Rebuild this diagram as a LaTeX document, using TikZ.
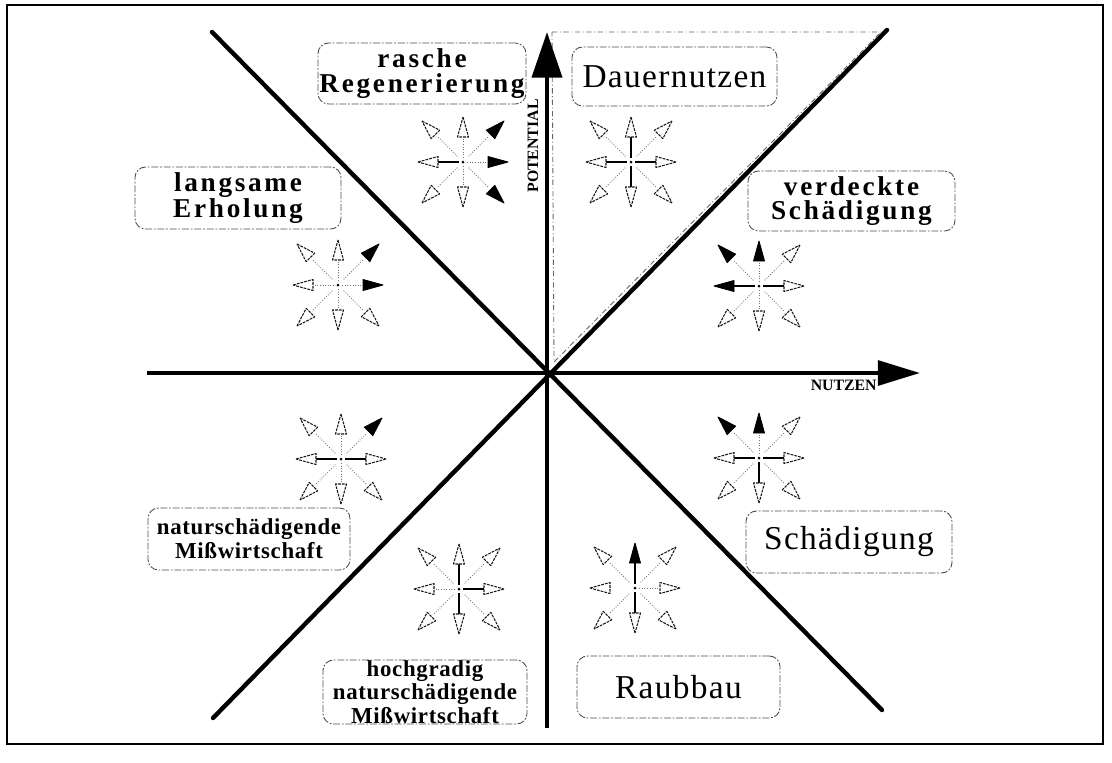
\documentclass[tikz,border=0pt]{standalone}
\usepackage{fontspec}
\setmainfont{Liberation Serif}
\newfontfamily\spbf[LetterSpace=10]{Liberation Serif}
\newfontfamily\smbf[LetterSpace=3]{Liberation Serif}
\newfontfamily\sprm[LetterSpace=4]{Liberation Serif}
\usetikzlibrary{calc,arrows.meta}
\newcommand\fbig{\spbf\bfseries\fontsize{15.5}{14}\selectfont}
\newcommand\fsm{\smbf\bfseries\fontsize{13}{13.5}\selectfont}
\newcommand\freg{\sprm\fontsize{19}{20}\selectfont}
\tikzset{
 frame/.style={line width=0.85pt},
 axis/.style={line width=2.5pt},
 diag/.style={line width=2.5pt, line cap=round},
 lbox/.style={draw=black!70, line width=0.5pt, rounded corners=6pt,
   dash pattern=on 4pt off 1pt on 1pt off 1pt, align=center, inner sep=0pt},
 sector/.style={draw=black!60, line width=0.5pt, dash pattern=on 3pt off 1.5pt on 0.5pt off 1.5pt},
 hb/.style={fill=black, draw=black, line width=0.5pt, line join=round},
 hw/.style={fill=white, draw=black!90, line width=0.6pt, dash pattern=on 1.6pt off 0.6pt, line join=round},
 ss/.style={draw=black, line width=0.6pt},
 ds/.style={draw=black!55, line width=0.5pt, densely dotted},
 ns/.style={draw=none},
 axlabel/.style={font=\bfseries\fontsize{9}{10}\selectfont, inner sep=0pt},
}
% angles: y axis points down, so 90 = down, 270 = up
\newcommand\rosette[3]{%
  \foreach \a/\h/\s in {#2}{%
    \draw[\s] ($(#1)+(\a:4)$) -- ($(#1)+(\a:26)$);
    \draw[\h] ($(#1)+(\a:45)$) -- ($(#1)+(\a:25)+(\a+90:5.5)$) -- ($(#1)+(\a:25)+(\a-90:5.5)$) -- cycle;
  }
  \foreach \a/\h/\s in {#3}{%
    \draw[\s] ($(#1)+(\a:8)$) -- ($(#1)+(\a:36)$);
    \draw[\h] ($(#1)+(\a:58)$) -- ($(#1)+(\a:39)+(\a+90:6)$) -- ($(#1)+(\a:39)+(\a-90:6)$) -- cycle;
  }
  \fill (#1) circle (1.5);
}
\begin{document}
\begin{tikzpicture}[x=0.02cm,y=-0.02cm]
\useasboundingbox (0,0) rectangle (1112,762);
\draw[frame] (7,5) rectangle (1103,744);

% sector highlight (Dauernutzen)
\draw[sector] (552,32) -- (881,32) -- (554,362) -- cycle;

% diagonals
\coordinate (d1a) at (212,32); \coordinate (d1b) at (882,710);
\coordinate (d2a) at (887,30); \coordinate (d2b) at (213,718);
\draw[diag] (d1a) -- (d1b);
\draw[diag] (d2a) -- (d2b);

% axes
\coordinate (O) at (547,373);
\coordinate (xs) at (147,373); \coordinate (xe) at (920,373);
\coordinate (ys) at (547,728); \coordinate (ye) at (547,32);
\draw[axis, -{Triangle[length=24pt,width=14pt]}] (xs) -- (xe);
\draw[axis, -{Triangle[length=26pt,width=17pt]}] (ys) -- (ye);
\node[axlabel, rotate=90] (pot) at (533,146) {POTENTIAL};
\node[axlabel, anchor=east] (nut) at (877,385) {NUTZEN};

% label boxes
\node[lbox, minimum width=208*0.02cm, minimum height=61*0.02cm, font=\fbig] (rasche) at (422,73.5) {rasche\\Regenerierung};
\node[lbox, minimum width=205*0.02cm, minimum height=59*0.02cm, font=\freg] (dauer) at (674.5,76.5) {Dauernutzen};
\node[lbox, minimum width=206*0.02cm, minimum height=62*0.02cm, font=\fbig] (langsam) at (238,198) {langsame\\Erholung};
\node[lbox, minimum width=207*0.02cm, minimum height=60*0.02cm, font=\fbig] (verdeckt) at (851.5,201) {verdeckte\\Schädigung};
\node[lbox, minimum width=202*0.02cm, minimum height=62*0.02cm, font=\fsm] (natur) at (249,539) {naturschädigende\\Mißwirtschaft};
\node[lbox, minimum width=206*0.02cm, minimum height=62*0.02cm, font=\freg] (schaed) at (849,542) {Schädigung};
\node[lbox, minimum width=204*0.02cm, minimum height=64*0.02cm, font=\fsm] (hoch) at (425,692) {hochgradig\\naturschädigende\\Mißwirtschaft};
\node[lbox, minimum width=203*0.02cm, minimum height=62*0.02cm, font=\freg] (raub) at (678.5,687) {Raubbau};

% rosettes
\coordinate (r1) at (463,162);
\coordinate (r2) at (631,162);
\coordinate (r3) at (338,285);
\coordinate (r4) at (759,286);
\coordinate (r5) at (341,459);
\coordinate (r6) at (759,458);
\coordinate (r7) at (459,589);
\coordinate (r8) at (635,588);
\rosette{r1}{0/hb/ds,90/hw/ds,180/hw/ss,270/hw/ds}{45/hb/ds,135/hw/ds,225/hw/ds,315/hb/ds}
\rosette{r2}{0/hw/ss,90/hw/ss,180/hw/ss,270/hw/ss}{45/hw/ds,135/hw/ds,225/hw/ds,315/hw/ds}
\rosette{r3}{0/hb/ds,90/hw/ds,180/hw/ds,270/hw/ds}{45/hw/ds,135/hw/ds,225/hw/ds,315/hb/ds}
\rosette{r4}{0/hw/ss,90/hw/ds,180/hb/ss,270/hb/ds}{45/hw/ds,135/hw/ds,225/hb/ds,315/hw/ds}
\rosette{r5}{0/hw/ss,90/hw/ds,180/hw/ss,270/hw/ds}{45/hw/ds,135/hw/ds,225/hw/ds,315/hb/ds}
\rosette{r6}{0/hw/ss,90/hw/ss,180/hw/ss,270/hb/ds}{45/hw/ds,135/hw/ds,225/hb/ds,315/hw/ds}
\rosette{r7}{0/hw/ss,90/hw/ss,180/hw/ds,270/hw/ss}{45/hw/ds,135/hw/ds,225/hw/ds,315/hw/ds}
\rosette{r8}{0/hw/ds,90/hw/ss,180/hw/ns,270/hb/ss}{45/hw/ds,135/hw/ds,225/hw/ds,315/hw/ds}
\end{tikzpicture}
\end{document}
